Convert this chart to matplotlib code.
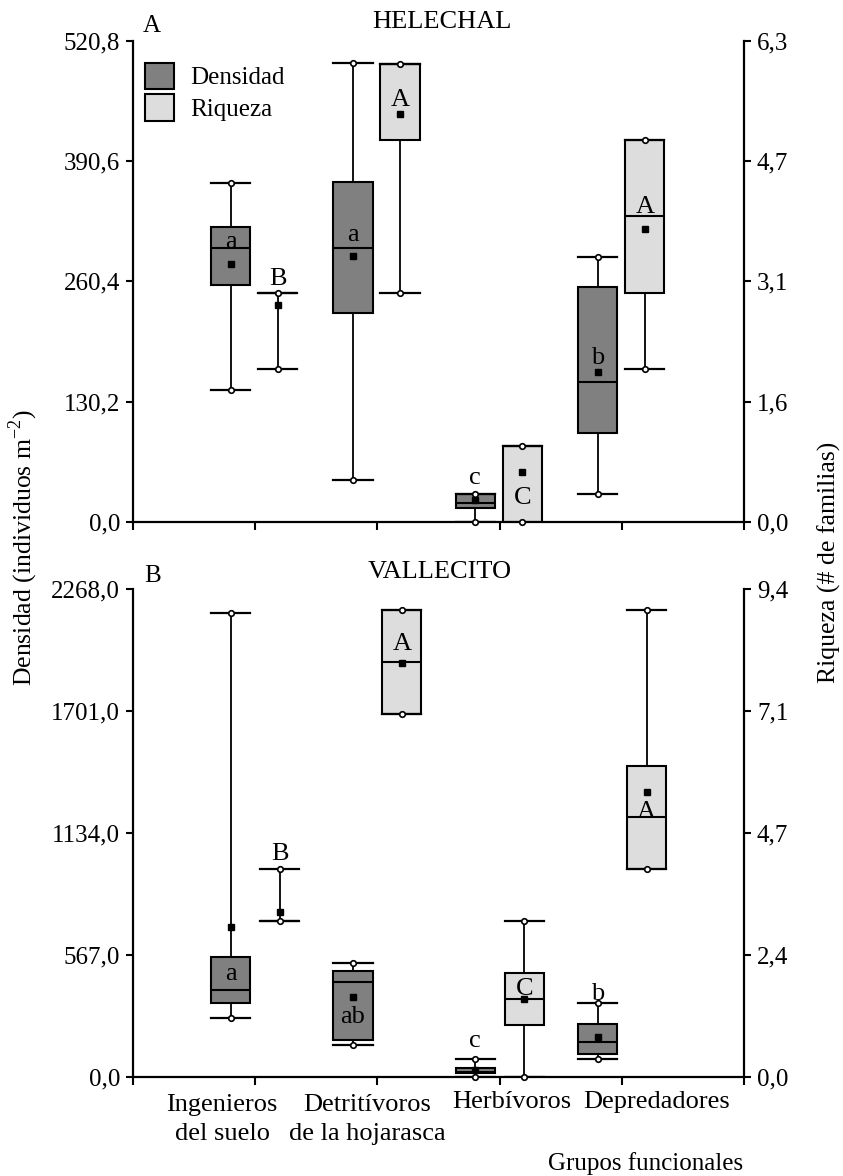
import numpy as np
import matplotlib
matplotlib.use('Agg')
import matplotlib.pyplot as plt
from matplotlib.patches import Patch
from matplotlib.transforms import blended_transform_factory

plt.rcParams['font.family'] = ['Liberation Serif', 'DejaVu Serif']
plt.rcParams['font.size'] = 18
plt.rcParams['mathtext.fontset'] = 'custom'
plt.rcParams['mathtext.rm'] = 'Liberation Serif'

groups = ['Ingenieros\ndel suelo', 'Detritívoros\nde la hojarasca', 'Herbívoros', 'Depredadores']

# HELECHAL - densidad (individuos m-2)
hel_den_min = [142.8, 45.4, 0.0, 30.3]
hel_den_q1 = [256.5, 225.8, 15.5, 96.0]
hel_den_med = [296.2, 296.2, 21.0, 151.2]
hel_den_q3 = [319.5, 368.2, 30.3, 254.6]
hel_den_max = [367.2, 497.0, 30.3, 287.1]
hel_den_mean = [279.2, 287.8, 23.8, 162.0]
hel_den_letters = ['a', 'a', 'c', 'b']

# HELECHAL - riqueza (# de familias)
hel_ric_min = [2, 3, 0, 2]
hel_ric_q1 = [3, 5, 0, 3]
hel_ric_med = [3, 6, 1, 4]
hel_ric_q3 = [3, 6, 1, 5]
hel_ric_max = [3, 6, 1, 5]
hel_ric_mean = [2.84, 5.34, 0.66, 3.84]
hel_ric_letters = ['B', 'A', 'C', 'A']

# VALLECITO - densidad
val_den_min = [271, 146.6, 0, 80]
val_den_q1 = [343.6, 170, 15, 103.3]
val_den_med = [402.7, 441, 22, 162]
val_den_q3 = [557.7, 491, 38, 244.4]
val_den_max = [2159, 527, 80, 340.7]
val_den_mean = [697, 371.5, 30, 182.5]
val_den_letters = ['a', 'ab', 'c', 'b']

# VALLECITO - riqueza
val_ric_min = [3, 7, 0, 4]
val_ric_q1 = [3, 7, 1, 4]
val_ric_med = [3, 8, 1.5, 5]
val_ric_q3 = [3, 9, 2, 6]
val_ric_max = [4, 9, 3, 9]
val_ric_mean = [3.17, 7.98, 1.5, 5.48]
val_ric_letters = ['B', 'A', 'C', 'A']

# axis limits and tick labels
hel_ymax = [520.8, 6.3]
val_ymax = [2268.0, 9.4]
hel_left_ticks = ['0,0', '130,2', '260,4', '390,6', '520,8']
hel_right_ticks = ['0,0', '1,6', '3,1', '4,7', '6,3']
val_left_ticks = ['0,0', '567,0', '1134,0', '1701,0', '2268,0']
val_right_ticks = ['0,0', '2,4', '4,7', '7,1', '9,4']

# where the significance letters sit (baseline, in each axis' units)
hel_den_letter_y = [296.2, 304, 41.1, 170.6]
hel_ric_letter_y = [3.10, 5.45, 0.236, 4.04]
val_den_letter_y = [449, 247.6, 136, 356]
val_ric_letter_y = [4.18, 8.23, 1.57, 4.98]

dark = '#808080'
light = '#dddddd'
W = 0.32


def make_stats(mn, q1, med, q3, mx, mean):
    return [dict(whislo=a, q1=b, med=c, q3=d, whishi=e, mean=f, fliers=[])
            for a, b, c, d, e, f in zip(mn, q1, med, q3, mx, mean)]


def draw_boxes(ax, stats, pos, color, letters, letter_y):
    ax.bxp(stats, positions=pos, widths=W, capwidths=W, patch_artist=True,
           showmeans=True, showfliers=False, manage_ticks=False,
           boxprops=dict(facecolor=color, edgecolor='black', linewidth=1.5),
           medianprops=dict(color='black', linewidth=1.5),
           whiskerprops=dict(color='black', linewidth=1.3),
           capprops=dict(color='black', linewidth=1.6),
           meanprops=dict(marker='s', markerfacecolor='black',
                          markeredgecolor='black', markersize=5))
    ends_x = list(pos) + list(pos)
    ends_y = [s['whislo'] for s in stats] + [s['whishi'] for s in stats]
    ax.plot(ends_x, ends_y, ls='none', marker='o', markersize=4,
            markerfacecolor='white', markeredgecolor='black', mew=1.2,
            clip_on=False, zorder=4)
    for x, t, y in zip(pos, letters, letter_y):
        ax.text(x, y, t, ha='center', va='baseline', fontsize=19, zorder=5)


def style_axes(ax, ax2, ymax, left_labels, right_labels):
    ax.set_xlim(0, 5)
    ax.set_ylim(0, ymax[0])
    ax2.set_ylim(0, ymax[1])
    ax.set_yticks(np.linspace(0, ymax[0], 5))
    ax.set_yticklabels(left_labels)
    ax2.set_yticks(np.linspace(0, ymax[1], 5))
    ax2.set_yticklabels(right_labels)
    ax.set_xticks(range(6))
    ax.set_xticklabels([])
    ax.spines['top'].set_visible(False)
    ax.spines['right'].set_visible(False)
    for s in ['top', 'left', 'bottom']:
        ax2.spines[s].set_visible(False)
    for sp in [ax.spines['left'], ax.spines['bottom'], ax2.spines['right']]:
        sp.set_linewidth(1.6)
    ax.tick_params(axis='y', direction='out', length=5, width=1.5, pad=4)
    ax.tick_params(axis='x', direction='out', length=6, width=1.5)
    ax2.tick_params(axis='y', direction='out', length=5, width=1.5, pad=4)


fig = plt.figure(figsize=(8.43, 11.76), dpi=100)
axA = fig.add_axes([0.1574, 0.5561, 0.7257, 0.4093])
axA2 = axA.twinx()
axB = fig.add_axes([0.1574, 0.0846, 0.7257, 0.4143])
axB2 = axB.twinx()

ticks = np.arange(1, 5)

draw_boxes(axA, make_stats(hel_den_min, hel_den_q1, hel_den_med, hel_den_q3, hel_den_max, hel_den_mean),
           ticks - 0.2, dark, hel_den_letters, hel_den_letter_y)
draw_boxes(axA2, make_stats(hel_ric_min, hel_ric_q1, hel_ric_med, hel_ric_q3, hel_ric_max, hel_ric_mean),
           ticks + 0.185, light, hel_ric_letters, hel_ric_letter_y)
style_axes(axA, axA2, hel_ymax, hel_left_ticks, hel_right_ticks)

draw_boxes(axB, make_stats(val_den_min, val_den_q1, val_den_med, val_den_q3, val_den_max, val_den_mean),
           ticks - 0.2, dark, val_den_letters, val_den_letter_y)
draw_boxes(axB2, make_stats(val_ric_min, val_ric_q1, val_ric_med, val_ric_q3, val_ric_max, val_ric_mean),
           ticks + 0.2, light, val_ric_letters, val_ric_letter_y)
style_axes(axB, axB2, val_ymax, val_left_ticks, val_right_ticks)

# legend
handles = [Patch(facecolor=dark, edgecolor='black', linewidth=1.5),
           Patch(facecolor=light, edgecolor='black', linewidth=1.5)]
axA2.legend(handles, ['Densidad', 'Riqueza'], loc='upper left', bbox_to_anchor=(0.0, 0.98),
            frameon=False, fontsize=18, handlelength=1.15, handleheight=1.25,
            handletextpad=0.65, labelspacing=0.2, borderaxespad=0.1)

# group labels under the lower panel (first line baseline at 1108 px)
label_x = [0.73, 1.92, 3.10, 4.28]
trans = blended_transform_factory(axB.transData, fig.transFigure)
for x, g in zip(label_x, groups):
    n_lines = g.count('\n') + 1
    base = 1108 + 32.4 * (n_lines - 1)
    axB.text(x, 1 - base / 1176, g, transform=trans, ha='center', va='baseline',
             multialignment='center', linespacing=1.42, fontsize=19)

fig.text(743 / 843, 1 - 1170 / 1176, 'Grupos funcionales', ha='right', va='baseline')

# titles and panel letters
fig.text(442 / 843, 1 - 28 / 1176, 'HELECHAL', ha='center', va='baseline', fontsize=19)
fig.text(152 / 843, 1 - 32 / 1176, 'A', ha='center', va='baseline')
fig.text(440 / 843, 1 - 578 / 1176, 'VALLECITO', ha='center', va='baseline', fontsize=19)
fig.text(153 / 843, 1 - 581.7 / 1176, 'B', ha='center', va='baseline')

# axis titles
fig.text(23 / 843, 1 - 547 / 1176, r'Densidad (individuos m$^{\mathregular{-2}}$)',
         rotation=90, ha='center', va='center', fontsize=18.5)
fig.text(829 / 843, 1 - 562 / 1176, 'Riqueza (# de familias)',
         rotation=90, ha='center', va='center', fontsize=18.5)

fig.savefig('out.png', dpi=100)
